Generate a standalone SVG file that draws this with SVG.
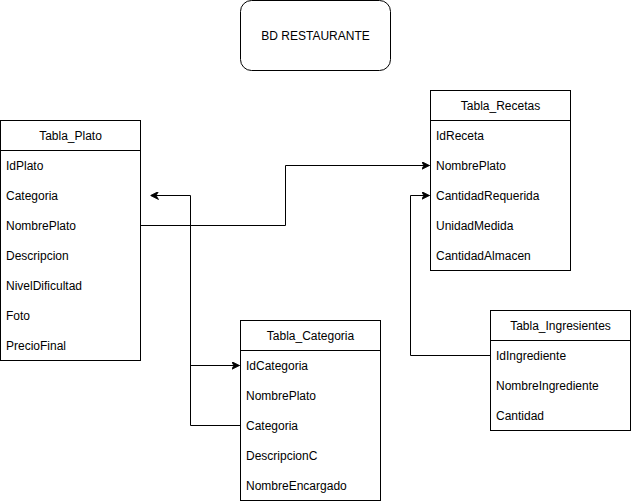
<svg xmlns="http://www.w3.org/2000/svg" width="631" height="501" viewBox="0 0 631 501">
<defs>
<style>
text{font-family:"Liberation Sans",Arial,sans-serif;font-size:12px;fill:#000}
.box{fill:#fff;stroke:#000;stroke-width:1}
.hdr{text-anchor:middle}
.line{fill:none;stroke:#000;stroke-width:1}
</style>
<marker id="arr" viewBox="0 0 10 10" refX="10" refY="5" markerWidth="8" markerHeight="8" markerUnits="userSpaceOnUse" orient="auto">
<path d="M0,0 L10,5 L0,10 L3,5 Z" fill="#000" stroke="#000" stroke-width="1"/>
</marker>
</defs>
<rect width="631" height="501" fill="#fff"/>
<g id="connectors">
<path class="line" d="M140.5,225.5 H285.5 V165.5 H429.5" marker-end="url(#arr)"/>
<path class="line" d="M240.5,425.5 H190.5 V195.5 H150.5" marker-end="url(#arr)"/>
<path class="line" d="M190.5,365.5 H239.5" marker-end="url(#arr)"/>
<path class="line" d="M490.5,355.5 H410.5 V195.5 H429.5" marker-end="url(#arr)"/>
</g>
<g id="title">
<rect class="box" x="240.5" y="0.5" width="150" height="70" rx="11" ry="11"/>
<text class="hdr" x="315.5" y="39.5">BD RESTAURANTE</text>
</g>
<g id="tabla_plato">
<rect class="box" x="0.5" y="120.5" width="140" height="240"/>
<line class="line" x1="0.5" y1="150.5" x2="140.5" y2="150.5"/>
<text class="hdr" x="70.5" y="139.5">Tabla_Plato</text>
<text x="6" y="169.5">IdPlato</text>
<text x="6" y="199.5">Categoria</text>
<text x="6" y="229.5">NombrePlato</text>
<text x="6" y="259.5">Descripcion</text>
<text x="6" y="289.5">NivelDificultad</text>
<text x="6" y="319.5">Foto</text>
<text x="6" y="349.5">PrecioFinal</text>
</g>
<g id="tabla_recetas">
<rect class="box" x="430.5" y="90.5" width="140" height="180"/>
<line class="line" x1="430.5" y1="120.5" x2="570.5" y2="120.5"/>
<text class="hdr" x="500.5" y="109.5">Tabla_Recetas</text>
<text x="436" y="139.5">IdReceta</text>
<text x="436" y="169.5">NombrePlato</text>
<text x="436" y="199.5">CantidadRequerida</text>
<text x="436" y="229.5">UnidadMedida</text>
<text x="436" y="259.5">CantidadAlmacen</text>
</g>
<g id="tabla_categoria">
<rect class="box" x="240.5" y="320.5" width="140" height="180"/>
<line class="line" x1="240.5" y1="350.5" x2="380.5" y2="350.5"/>
<text class="hdr" x="310.5" y="339.5">Tabla_Categoria</text>
<text x="246" y="369.5">IdCategoria</text>
<text x="246" y="399.5">NombrePlato</text>
<text x="246" y="429.5">Categoria</text>
<text x="246" y="459.5">DescripcionC</text>
<text x="246" y="489.5">NombreEncargado</text>
</g>
<g id="tabla_ingresientes">
<rect class="box" x="490.5" y="310.5" width="140" height="120"/>
<line class="line" x1="490.5" y1="340.5" x2="630.5" y2="340.5"/>
<text class="hdr" x="560.5" y="329.5">Tabla_Ingresientes</text>
<text x="496" y="359.5">IdIngrediente</text>
<text x="496" y="389.5">NombreIngrediente</text>
<text x="496" y="419.5">Cantidad</text>
</g>
</svg>
